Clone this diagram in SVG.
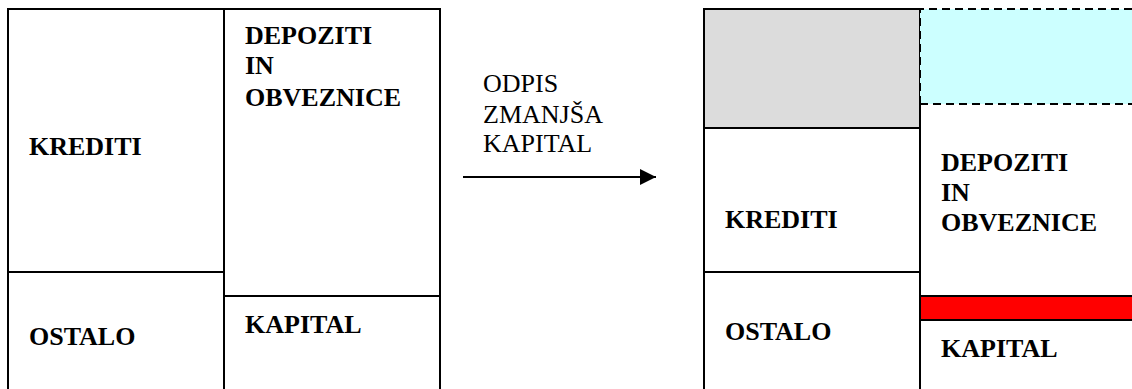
<svg xmlns="http://www.w3.org/2000/svg" width="1132" height="389" viewBox="0 0 1132 389">
  <style>
    .box { fill: #ffffff; stroke: #000000; stroke-width: 2; }
    .edge { fill: none; stroke: #000000; stroke-width: 2; }
    text { font-family: 'Liberation Serif', 'DejaVu Serif', serif; font-size: 26px; fill: #000000; }
    .lbl { font-weight: bold; }
    .dash { stroke: #000000; stroke-width: 2; stroke-dasharray: 8 5; fill: none; }
  </style>
  <defs>
    <marker id="arrowhead" markerWidth="16" markerHeight="16" refX="16" refY="8" orient="auto" markerUnits="userSpaceOnUse">
      <path d="M0,0 L16,8 L0,16 Z" fill="#000000"/>
    </marker>
  </defs>
  <rect width="1132" height="389" fill="#ffffff"/>

  <!-- Balance sheet before the write-off -->
  <g id="before">
    <g id="before-krediti">
      <rect class="box" x="8" y="9" width="216" height="263"/>
      <text class="lbl" x="29" y="155">KREDITI</text>
    </g>
    <g id="before-ostalo">
      <rect class="box" x="8" y="272" width="216" height="130"/>
      <text class="lbl" x="29" y="345">OSTALO</text>
    </g>
    <g id="before-depoziti">
      <rect class="box" x="224" y="9" width="216" height="287"/>
      <text class="lbl" x="245" y="44">DEPOZITI</text>
      <text class="lbl" x="245" y="74">IN</text>
      <text class="lbl" x="245" y="106">OBVEZNICE</text>
    </g>
    <g id="before-kapital">
      <rect class="box" x="224" y="296" width="216" height="106"/>
      <text class="lbl" x="245" y="333">KAPITAL</text>
    </g>
  </g>

  <!-- Transition label -->
  <g id="transition">
    <text x="483" y="92">ODPIS</text>
    <text x="483" y="123">ZMANJŠA</text>
    <text x="483" y="152">KAPITAL</text>
  </g>

  <!-- Connectors -->
  <g id="connectors">
    <line x1="463" y1="177" x2="656" y2="177" stroke="#000000" stroke-width="2" marker-end="url(#arrowhead)"/>
  </g>

  <!-- Balance sheet after the write-off -->
  <g id="after">
    <g id="after-writeoff">
      <rect x="704" y="9" width="216" height="119" fill="#dcdcdc" stroke="#000000" stroke-width="2"/>
    </g>
    <g id="after-krediti">
      <rect class="box" x="704" y="128" width="216" height="144"/>
      <text class="lbl" x="725" y="228">KREDITI</text>
    </g>
    <g id="after-ostalo">
      <rect class="box" x="704" y="272" width="216" height="130"/>
      <text class="lbl" x="725" y="340">OSTALO</text>
    </g>
    <g id="after-depoziti">
      <path class="edge" d="M920,104 L920,296"/>
      <text class="lbl" x="941" y="171">DEPOZITI</text>
      <text class="lbl" x="941" y="201">IN</text>
      <text class="lbl" x="941" y="231">OBVEZNICE</text>
    </g>
    <g id="after-loss">
      <rect x="920" y="296" width="230" height="24" fill="#ff0000" stroke="#000000" stroke-width="2"/>
    </g>
    <g id="after-kapital">
      <path class="edge" d="M920,320 L920,400"/>
      <text class="lbl" x="941" y="357">KAPITAL</text>
    </g>
    <g id="after-removed">
      <rect x="920" y="9" width="230" height="95" fill="#ccffff"/>
      <path class="dash" d="M920,104 L920,9 L1140,9 M920,104 L1140,104"/>
    </g>
  </g>
</svg>
